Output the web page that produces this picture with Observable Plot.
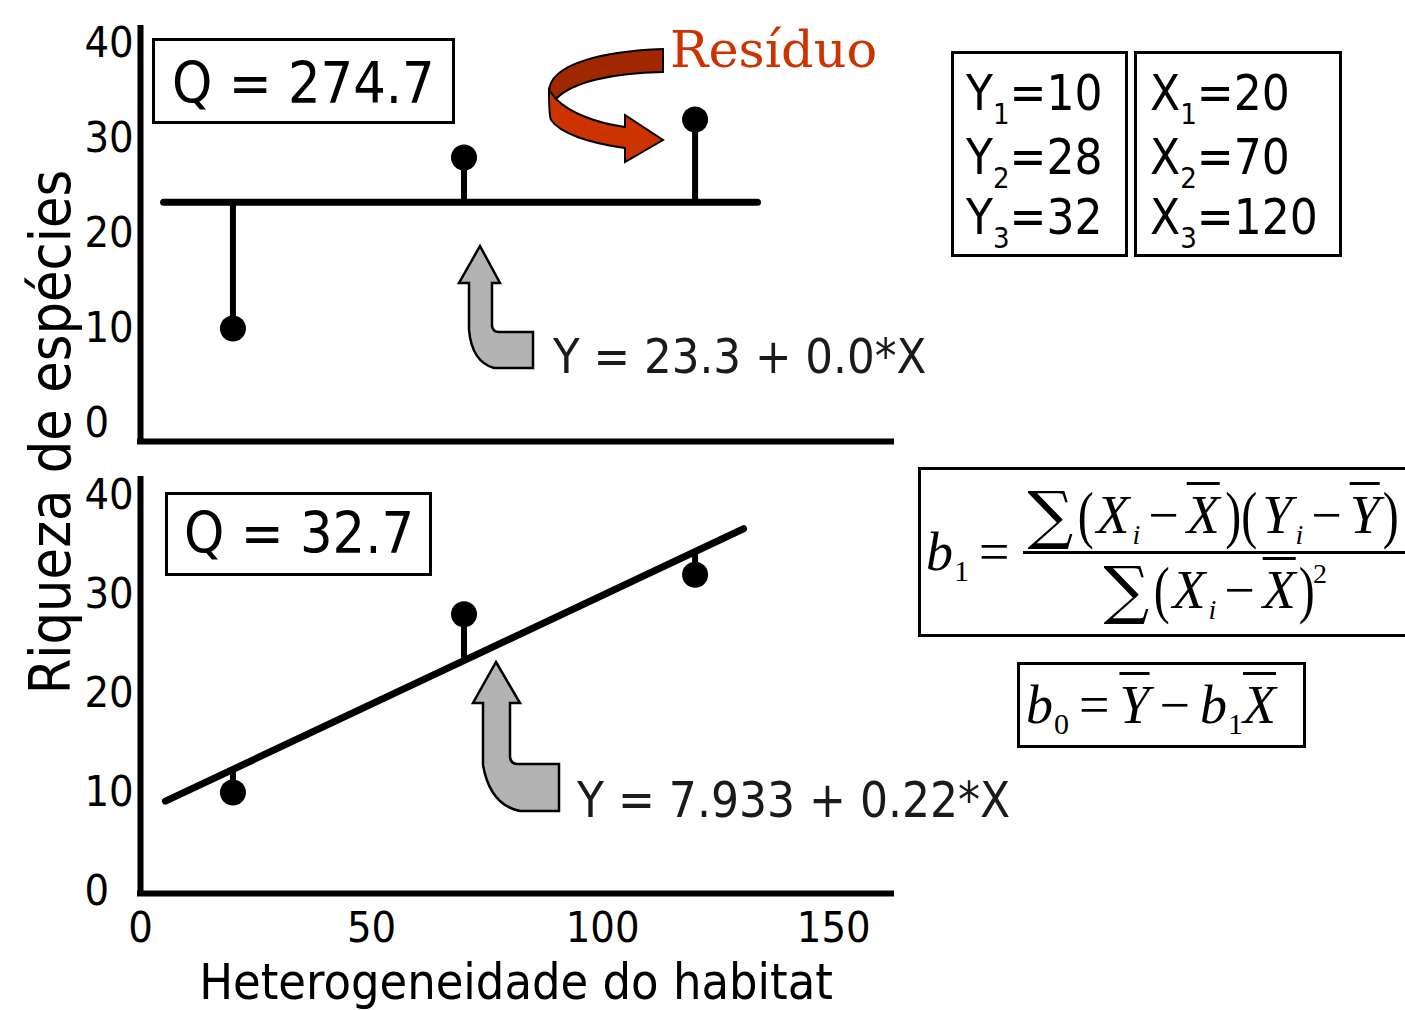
<!DOCTYPE html>
<html>
<head>
<meta charset="utf-8">
<script src="https://cdn.jsdelivr.net/npm/d3@7"></script>
<script src="https://cdn.jsdelivr.net/npm/@observablehq/plot@0.6"></script>
<style>
  html, body { margin: 0; padding: 0; background: #fff; overflow: hidden; }
  #page { position: relative; width: 1405px; height: 1010px; overflow: hidden; background: #fff; }
  #top, #bottom { position: absolute; left: 0; }
  #top { top: 0; }
  #bottom { top: 460px; }
  #overlay { position: absolute; left: 0; top: 0; }
  .fbox { position: absolute; border: 3px solid #000; box-sizing: border-box; background: #fff; }
  .eq { position: absolute; top: 0; bottom: 0; display: flex; align-items: center; white-space: nowrap;
        font-family: "Liberation Serif", "Times New Roman", serif; font-size: 54px; line-height: 1; color: #000; }
  .it { font-style: italic; }
  .s { font-style: normal; font-size: 30px; position: relative; top: 0.38em; margin-left: 1px; }
  .si { font-style: italic; font-size: 28px; position: relative; top: 0.42em; margin-left: 3px; }
  .op { margin: 0 10px; }
  .op2 { margin: 0 8px; }
  .frac { display: inline-flex; flex-direction: column; align-items: center; margin-left: 4px; }
  .num { display: flex; align-items: center; border-bottom: 3px solid #000; padding: 0 6px 4px 4px; }
  .den { display: flex; align-items: center; padding-top: 4px; }
  .sig { font-family: "DejaVu Serif", serif; font-size: 64px; font-style: normal; margin-right: 2px; }
  .pa { font-size: 64px; display: inline-block; transform: scaleX(0.75); }
  .ol { text-decoration: overline; text-decoration-thickness: 3px; }
  .sup { font-size: 28px; position: relative; top: -0.55em; margin-left: -4px; }
</style>
</head>
<body>
<div id="page">
  <div id="top"></div>
  <div id="bottom"></div>
  <svg id="overlay" width="1405" height="1010"></svg>

  <div class="fbox" style="left:918px; top:467px; width:540px; height:170px;">
    <div class="eq" style="left:5px;">
      <span class="it">b<span class="s">1</span></span>
      <span class="op">=</span>
      <span class="frac">
        <span class="num"><span class="sig">∑</span><span class="pa">(</span><span class="it">X<span class="si">i</span></span><span class="op2">−</span><span class="it ol">X</span><span class="pa">)(</span><span class="it">Y<span class="si">i</span></span><span class="op2">−</span><span class="it ol">Y</span><span class="pa">)</span></span>
        <span class="den"><span class="sig">∑</span><span class="pa">(</span><span class="it">X<span class="si">i</span></span><span class="op2">−</span><span class="it ol">X</span><span class="pa">)</span><span class="sup">2</span></span>
      </span>
    </div>
  </div>

  <div class="fbox" style="left:1017px; top:662px; width:289px; height:86px;">
    <div class="eq" style="left:6px;">
      <span class="it">b<span class="s">0</span></span>
      <span class="op">=</span>
      <span class="it ol">Y</span>
      <span class="op">−</span>
      <span class="it">b<span class="s">1</span></span><span class="it ol">X</span>
    </div>
  </div>
</div>

<script>
// Three observations: habitat heterogeneity (X) and species richness (Y)
const heterogeneity = [20, 70, 120];
const richness = [10, 28, 32];

// Axis ticks
const yTicks = [0, 10, 20, 30, 40];
const xTicks = [0, 50, 100, 150];

// Two candidate models: flat mean line (top) and least-squares line (bottom)
const intercepts = [23.3, 7.933];
const slopes = [0.0, 0.22];
const slopeDigits = [1, 2];
const qValues = [274.7, 32.7];
// X extent over which each fitted line is drawn
const lineFrom = [5, 5.4];
const lineTo = [133.5, 130.5];

const fontSans = '"DejaVu Sans Condensed", "DejaVu Sans", sans-serif';

function panel(k, opts) {
  const b0 = intercepts[k], b1 = slopes[k];
  const pts = heterogeneity.map((x, i) => ({x, y: richness[i], fit: b0 + b1 * x}));
  const fitLine = [lineFrom[k], lineTo[k]].map(x => ({x, y: b0 + b1 * x}));
  const marks = [
    // axis lines
    Plot.ruleX([0], {stroke: "#000", strokeWidth: 6, strokeLinecap: "square"}),
    Plot.ruleY([0], {dy: opts.baseDy, stroke: "#000", strokeWidth: 6, strokeLinecap: "square"}),
    Plot.axisY({ticks: yTicks, tickSize: 0, tickPadding: 56, textAnchor: "start", fontSize: 43, label: null}),
    // residuals
    Plot.ruleX(pts, {x: "x", y1: "y", y2: "fit", stroke: "#000", strokeWidth: 6}),
    // fitted line
    Plot.line(fitLine, {x: "x", y: "y", stroke: "#000", strokeWidth: 7}),
    // observations
    Plot.dot(pts, {x: "x", y: "y", r: 13, fill: "#000", stroke: "none"})
  ];
  if (opts.xAxis) {
    marks.push(
      Plot.axisX({ticks: xTicks, tickSize: 0, tickPadding: 18, fontSize: 43, label: null}),
      Plot.text(["Heterogeneidade do habitat"], {text: d => d, frameAnchor: "bottom", dy: 89, fontSize: 50, lineAnchor: "middle"})
    );
  }
  return Plot.plot({
    width: 1405,
    height: opts.height,
    marginLeft: 140,
    marginRight: 514,
    marginTop: opts.marginTop,
    marginBottom: opts.marginBottom,
    style: {fontFamily: fontSans, fontStretch: "condensed", color: "#000", background: "transparent", overflow: "visible"},
    x: {domain: [0, 162.5], range: [140, 891], axis: null},
    y: {domain: [0, 40], range: opts.yRange, axis: null},
    marks
  });
}

document.getElementById("top").append(
  panel(0, {height: 460, marginTop: 28, marginBottom: 19, yRange: [423, 43], baseDy: 18, xAxis: false})
);
document.getElementById("bottom").append(
  panel(1, {height: 550, marginTop: 19, marginBottom: 117, yRange: [431, 35], baseDy: 2, xAxis: true})
);

// ---- annotations ----
const svg = d3.select("#overlay");

// y title spanning both panels
svg.append("text")
  .attr("transform", "translate(70,432) rotate(-90)")
  .attr("text-anchor", "middle")
  .attr("font-family", fontSans).attr("font-stretch", "condensed")
  .attr("font-size", 57).attr("fill", "#000")
  .text("Riqueza de espécies");

// Q boxes
const qBoxes = [
  {x: 153.5, y: 39.5, w: 300, h: 83, tx: 172, ty: 103},
  {x: 166.5, y: 493.5, w: 264, h: 81, tx: 184, ty: 553}
];
qBoxes.forEach((b, k) => {
  svg.append("rect").attr("x", b.x).attr("y", b.y).attr("width", b.w).attr("height", b.h)
    .attr("fill", "#fff").attr("stroke", "#000").attr("stroke-width", 3);
  svg.append("text").attr("x", b.tx).attr("y", b.ty)
    .attr("font-family", fontSans).attr("font-stretch", "condensed").attr("font-size", 57).attr("fill", "#000")
    .text(`Q = ${qValues[k]}`);
});

// equation labels
const eqPos = [{x: 553, y: 373, size: 48.5}, {x: 577, y: 817, size: 49}];
eqPos.forEach((p, k) => {
  svg.append("text").attr("x", p.x).attr("y", p.y)
    .attr("font-family", fontSans).attr("font-stretch", "condensed").attr("font-size", p.size).attr("fill", "#1a1a1a")
    .text(`Y = ${intercepts[k]} + ${slopes[k].toFixed(slopeDigits[k])}*X`);
});

// grey bent arrows pointing at the fitted lines
const greyArrows = [
  "M480,246 L500,283 L492,283 L492,326 Q493,332 499,332 L533,332 L533,368 L494,368 Q472,362 469,330 L469,283 L459,283 Z",
  "M496,662 L520,703 L510,703 L510,757 Q511,764 517,764 L559,764 L559,811 L520,811 Q490,805 483,765 L483,703 L473,703 Z"
];
greyArrows.forEach(d => svg.append("path").attr("d", d)
  .attr("fill", "#b3b3b3").attr("stroke", "#000").attr("stroke-width", 2.5).attr("stroke-linejoin", "miter"));

// curled red arrow labelled "Resíduo"
svg.append("path")
  .attr("d", "M663,49 L663,72 C612,73 572,82 556,99 L549,92 C549,63 606,51 663,49 Z")
  .attr("fill", "#a02800").attr("stroke", "#000").attr("stroke-width", 2);
svg.append("path")
  .attr("d", "M549,90 L556,99 C570,113 596,123 625,127 L625,115 L663,140 L625,162 L625,148 C588,143 560,133 551,120 C549,115 549,104 549,90 Z")
  .attr("fill", "#cc3300").attr("stroke", "#000").attr("stroke-width", 2).attr("stroke-linejoin", "miter");
svg.append("text").attr("x", 670).attr("y", 67)
  .attr("font-family", '"DejaVu Serif", serif').attr("font-size", 51).attr("fill", "#cc3300")
  .text("Resíduo");

// data table of the observations
const tables = [
  {name: "Y", values: richness, x: 951, w: 177, tx: 966},
  {name: "X", values: heterogeneity, x: 1134, w: 208, tx: 1150}
];
const rowBase = [110, 174, 234];
tables.forEach(t => {
  svg.append("rect").attr("x", t.x + 1.5).attr("y", 52.5).attr("width", t.w - 3).attr("height", 203)
    .attr("fill", "#fff").attr("stroke", "#000").attr("stroke-width", 3);
  t.values.forEach((v, i) => {
    const txt = svg.append("text").attr("x", t.tx).attr("y", rowBase[i])
      .attr("font-family", fontSans).attr("font-stretch", "condensed").attr("font-size", 49).attr("fill", "#000");
    txt.append("tspan").text(t.name);
    txt.append("tspan").attr("dy", 14).attr("font-size", 29).text(i + 1);
    txt.append("tspan").attr("dy", -14).text(`=${v}`);
  });
});
</script>
</body>
</html>
